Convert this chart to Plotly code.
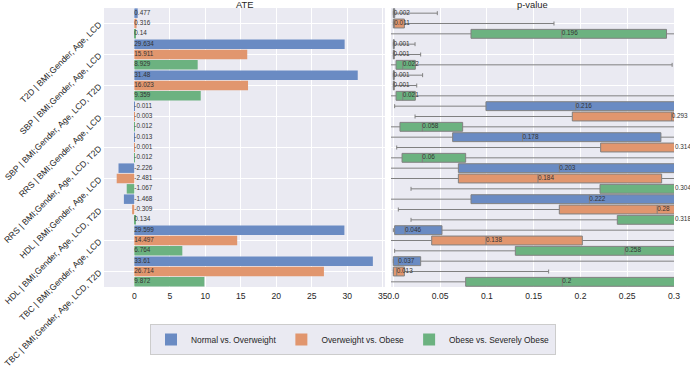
import plotly.graph_objects as go

groups = ["T2D | BMI;Gender, Age, LCD", "SBP | BMI;Gender, Age, LCD",
          "SBP | BMI;Gender, Age, LCD, T2D", "RRS | BMI;Gender, Age, LCD",
          "RRS | BMI;Gender, Age, LCD, T2D", "HDL | BMI;Gender, Age, LCD",
          "HDL | BMI;Gender, Age, LCD, T2D", "TBC | BMI;Gender, Age, LCD",
          "TBC | BMI;Gender, Age, LCD, T2D"]
series = ["Normal vs. Overweight", "Overweight vs. Obese", "Obese vs. Severely Obese"]
colors = ["#6A8BC3", "#E1966E", "#6CB280"]

# ATE values per series
ate_normal = [0.477, 29.634, 31.48, -0.011, -0.013, -2.226, -1.468, 29.599, 33.61]
ate_over = [0.316, 15.911, 16.023, -0.003, -0.001, -2.481, -0.309, 14.497, 26.714]
ate_obese = [0.14, 8.929, 9.359, -0.012, -0.012, -1.067, 0.134, 6.764, 9.872]

# p-values per series
p_normal = [0.002, 0.001, 0.001, 0.216, 0.178, 0.203, 0.222, 0.046, 0.037]
p_over = [0.011, 0.001, 0.001, 0.293, 0.314, 0.184, 0.28, 0.138, 0.013]
p_obese = [0.196, 0.022, 0.021, 0.058, 0.06, 0.304, 0.318, 0.258, 0.2]

# p-value box statistics (bootstrap distribution) per series
lf_normal = [0, 0, 0, 0.0014, -0.01, -0.01, -0.01, 0, 0]
q1_normal = [0, 0, 0, 0.099, 0.0634, 0.0695, 0.083, 0.0014, 0]
md_normal = [0.0005, 0.0003, 0.0003, 0.195, 0.138, 0.1774, 0.2095, 0.0125, 0.0053]
q3_normal = [0.0015, 0.001, 0.001, 0.40, 0.286, 0.40, 0.40, 0.052, 0.0292]
uf_normal = [0.047, 0.0232, 0.0313, 0.6, 0.6, 0.6, 0.6, 0.6, 0.6]

lf_over = [0, 0, 0, 0.0232, 0.0036, -0.01, 0.0053, -0.01, 0]
q1_over = [0, 0, 0, 0.1913, 0.2216, 0.0695, 0.1774, 0.041, 0]
md_over = [0.001, 0.0003, 0.0003, 0.2975, 0.301, 0.1546, 0.282, 0.099, 0.0036]
q3_over = [0.0118, 0.001, 0.001, 0.45, 0.45, 0.2868, 0.45, 0.202, 0.0118]
uf_over = [0.1717, 0.0292, 0.025, 0.6, 0.6, 0.6, 0.6, 0.6, 0.166]

lf_obese = [-0.01, -0.01, -0.01, -0.01, -0.01, 0.0189, 0.0189, 0.0014, -0.01]
q1_obese = [0.083, 0.0029, 0.0029, 0.0071, 0.0093, 0.2209, 0.2394, 0.1304, 0.0773]
md_obese = [0.18, 0.010, 0.010, 0.031, 0.031, 0.301, 0.301, 0.2476, 0.1806]
q3_obese = [0.292, 0.0235, 0.0235, 0.0741, 0.0773, 0.45, 0.45, 0.45, 0.45]
uf_obese = [0.6, 0.298, 0.6, 0.6, 0.6, 0.6, 0.6, 0.6, 0.6]

ate = [ate_normal, ate_over, ate_obese]
pv = [p_normal, p_over, p_obese]
lf = [lf_normal, lf_over, lf_obese]
q1 = [q1_normal, q1_over, q1_obese]
md = [md_normal, md_over, md_obese]
q3 = [q3_normal, q3_over, q3_obese]
uf = [uf_normal, uf_over, uf_obese]

FONT = "Liberation Sans, Arial, sans-serif"
W, H = 690, 369
BG = "#EAEAF2"

# panel geometry (pixels)
L0, L1 = 104, 385
R0, R1 = 391, 674
top, bottom = 8, 287
p_range = [-0.0025, 0.3]
# invisible label axis: same scale as the p-value axis, extended to the page edge
p_ext = p_range[0] + (W - R0) / (R1 - R0) * (p_range[1] - p_range[0])

fig = go.Figure()
ng = len(groups)
for s in range(3):
    rows = [g * 3 + s for g in range(ng)]
    fig.add_trace(go.Bar(
        orientation="h", x=ate[s], y=rows, width=0.92, name=series[s],
        marker=dict(color=colors[s], line=dict(width=0)),
        xaxis="x", yaxis="y", showlegend=True))
    fig.add_trace(go.Scatter(
        x=[0] * ng, y=rows, mode="text", text=[f"{v:g}" for v in ate[s]],
        textposition="middle right", textfont=dict(size=6.4, color="#333333", family=FONT),
        cliponaxis=False, showlegend=False, xaxis="x", yaxis="y", hoverinfo="skip"))
    fig.add_trace(go.Box(
        orientation="h", y=rows, q1=q1[s], median=md[s], q3=q3[s],
        lowerfence=lf[s], upperfence=uf[s], width=0.86, whiskerwidth=0.45,
        fillcolor=colors[s], line=dict(color="#808080", width=1),
        boxpoints=False, showlegend=False, xaxis="x2", yaxis="y2", name=series[s]))
    fig.add_trace(go.Scatter(
        x=md[s], y=rows, mode="text", text=[f"{v:g}" for v in pv[s]],
        textposition="middle right", textfont=dict(size=6.4, color="#333333", family=FONT),
        cliponaxis=False, showlegend=False, xaxis="x3", yaxis="y3", hoverinfo="skip"))

ydom = [1 - bottom / H, 1 - top / H]
yrange = [3 * ng - 0.5, -0.5]
centers = [g * 3 + 1 for g in range(ng)]

fig.update_layout(
    width=W, height=H, margin=dict(l=0, r=0, t=0, b=0, autoexpand=False),
    paper_bgcolor="white", plot_bgcolor="rgba(0,0,0,0)",
    font=dict(family=FONT, size=8.6, color="#262626"),
    barmode="overlay", boxmode="overlay",
    xaxis=dict(domain=[L0 / W, L1 / W], range=[-4.27, 35.32],
               tickvals=[0, 5, 10, 15, 20, 25, 30, 35], showgrid=True,
               gridcolor="white", gridwidth=1, zeroline=False, ticks="",
               tickfont=dict(size=8.6), anchor="y", ticklabelstandoff=2,
               automargin=False),
    yaxis=dict(domain=ydom, range=yrange, tickvals=centers, ticktext=groups,
               tickangle=-45, showgrid=True, gridcolor="white", zeroline=False,
               ticks="", tickfont=dict(size=8.6), anchor="x", automargin=False,
               ticklabelstandoff=4),
    xaxis2=dict(domain=[R0 / W, R1 / W], range=p_range,
                tickvals=[0, 0.05, 0.1, 0.15, 0.2, 0.25, 0.3],
                ticktext=["0.0", "0.05", "0.1", "0.15", "0.2", "0.25", "0.3"],
                showgrid=True, gridcolor="white", gridwidth=1, zeroline=False,
                ticks="", tickfont=dict(size=8.6), anchor="y2", ticklabelstandoff=2,
                automargin=False),
    yaxis2=dict(domain=ydom, range=yrange, matches="y", tickvals=centers,
                showticklabels=False, showgrid=True, gridcolor="white",
                zeroline=False, ticks="", anchor="x2", automargin=False),
    xaxis3=dict(domain=[R0 / W, 1], range=[p_range[0], p_ext], visible=False,
                showgrid=False, zeroline=False, anchor="y3", automargin=False),
    yaxis3=dict(domain=ydom, range=yrange, matches="y", visible=False,
                showgrid=False, zeroline=False, anchor="x3", automargin=False),
    legend=dict(orientation="h", x=353 / W, xanchor="center", y=1 - 324 / H,
                yanchor="top", bgcolor=BG, bordercolor="#CCCCCC", borderwidth=1,
                font=dict(size=8.4, color="#262626"),
                itemwidth=30, traceorder="normal"),
    shapes=[
        dict(type="rect", xref="x domain", yref="y domain", x0=0, x1=1, y0=0, y1=1,
             fillcolor=BG, line=dict(width=0), layer="below"),
        dict(type="rect", xref="x2 domain", yref="y2 domain", x0=0, x1=1, y0=0, y1=1,
             fillcolor=BG, line=dict(width=0), layer="below"),
    ],
    annotations=[
        dict(text="ATE", x=(L0 + L1) / 2 / W, y=1 - 4.5 / H, xref="paper", yref="paper",
             xanchor="center", yanchor="middle", showarrow=False,
             font=dict(size=9.4, color="#262626")),
        dict(text="p-value", x=(R0 + R1) / 2 / W, y=1 - 4.5 / H, xref="paper", yref="paper",
             xanchor="center", yanchor="middle", showarrow=False,
             font=dict(size=9.4, color="#262626")),
    ],
)

fig.write_html("out.html")
